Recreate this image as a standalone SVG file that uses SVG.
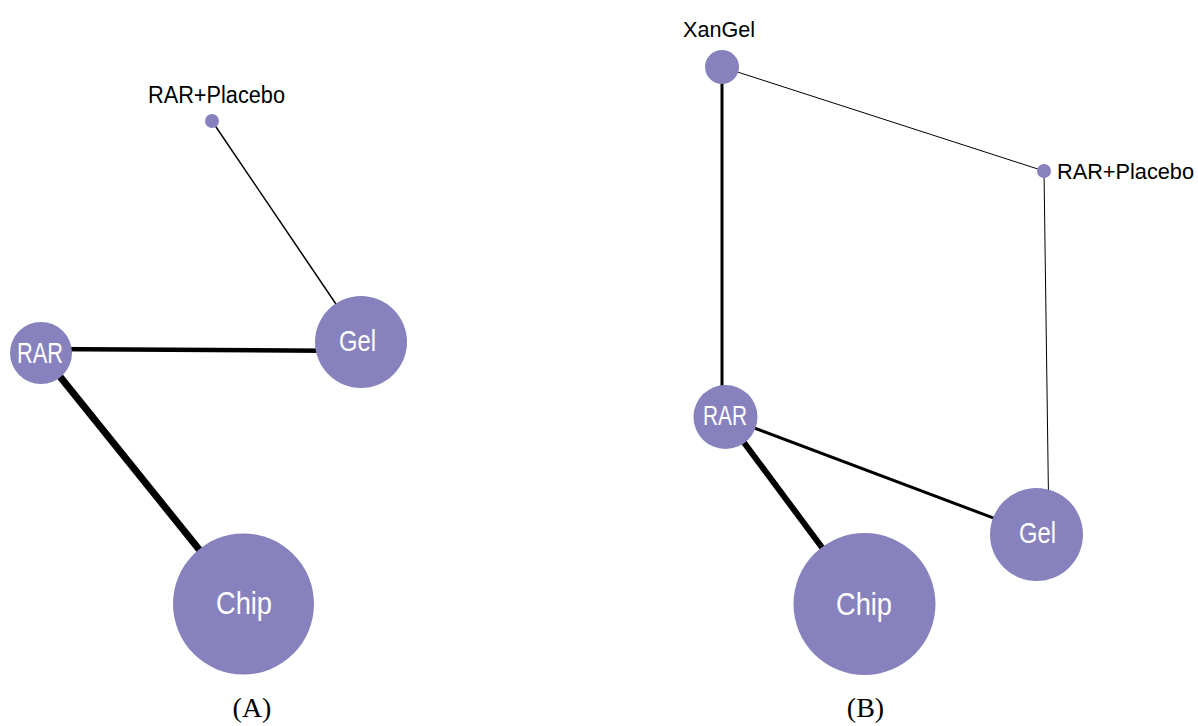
<svg xmlns="http://www.w3.org/2000/svg" width="1198" height="726" viewBox="0 0 1198 726">
  <style>
    .node { fill: #8782be; }
    .edge { stroke: #000; fill: none; stroke-linecap: butt; }
    .in { font-family: "Liberation Sans Narrow", "Liberation Sans", Arial, sans-serif; fill: #fff; text-anchor: middle; }
    .out { font-family: "Liberation Sans Narrow", "Liberation Sans", Arial, sans-serif; fill: #000; }
    .cap { font-family: "Liberation Serif", "Times New Roman", serif; font-size: 28px; fill: #000; text-anchor: middle; }
  </style>
  <rect width="1198" height="726" fill="#fff"/>

  <g id="connectors">
    <!-- network A -->
    <line class="edge" x1="212" y1="121" x2="361" y2="341" stroke-width="1.5"/>
    <line class="edge" x1="41" y1="349" x2="361" y2="351" stroke-width="4.5"/>
    <line class="edge" x1="41" y1="353" x2="243" y2="604" stroke-width="7"/>
    <!-- network B -->
    <line class="edge" x1="722" y1="67" x2="1044" y2="171" stroke-width="1"/>
    <line class="edge" x1="722" y1="67" x2="722" y2="417" stroke-width="3"/>
    <line class="edge" x1="1044" y1="171" x2="1049" y2="534" stroke-width="1"/>
    <line class="edge" x1="725" y1="417" x2="1036" y2="534" stroke-width="3"/>
    <line class="edge" x1="725" y1="417" x2="864" y2="604" stroke-width="6"/>
  </g>

  <!-- network A nodes -->
  <g id="a-rar-placebo">
    <circle class="node" cx="212" cy="121" r="7"/>
    <text class="out" x="148" y="103" font-size="23" textLength="137" lengthAdjust="spacingAndGlyphs">RAR+Placebo</text>
  </g>
  <g id="a-rar">
    <circle class="node" cx="41" cy="353" r="31"/>
    <text class="in" x="40" y="363" font-size="29" textLength="46" lengthAdjust="spacingAndGlyphs">RAR</text>
  </g>
  <g id="a-gel">
    <circle class="node" cx="361" cy="342" r="46"/>
    <text class="in" x="357.5" y="351" font-size="30" textLength="37" lengthAdjust="spacingAndGlyphs">Gel</text>
  </g>
  <g id="a-chip">
    <circle class="node" cx="243.5" cy="604" r="70.5"/>
    <text class="in" x="244" y="614" font-size="32" textLength="56" lengthAdjust="spacingAndGlyphs">Chip</text>
  </g>

  <!-- network B nodes -->
  <g id="b-xangel">
    <circle class="node" cx="722" cy="67" r="17"/>
    <text class="out" x="683" y="37" font-size="22" textLength="72" lengthAdjust="spacingAndGlyphs">XanGel</text>
  </g>
  <g id="b-rar-placebo">
    <circle class="node" cx="1044" cy="171" r="7"/>
    <text class="out" x="1057" y="179" font-size="22" textLength="137" lengthAdjust="spacingAndGlyphs">RAR+Placebo</text>
  </g>
  <g id="b-rar">
    <circle class="node" cx="725.5" cy="417" r="32"/>
    <text class="in" x="725" y="425" font-size="27" textLength="44" lengthAdjust="spacingAndGlyphs">RAR</text>
  </g>
  <g id="b-gel">
    <circle class="node" cx="1036.5" cy="534.5" r="46.5"/>
    <text class="in" x="1037.5" y="543" font-size="29" textLength="37" lengthAdjust="spacingAndGlyphs">Gel</text>
  </g>
  <g id="b-chip">
    <circle class="node" cx="864.5" cy="604" r="71"/>
    <text class="in" x="864" y="615" font-size="32" textLength="56" lengthAdjust="spacingAndGlyphs">Chip</text>
  </g>

  <!-- panel captions -->
  <text class="cap" x="252" y="717">(A)</text>
  <text class="cap" x="865.5" y="717">(B)</text>
</svg>
